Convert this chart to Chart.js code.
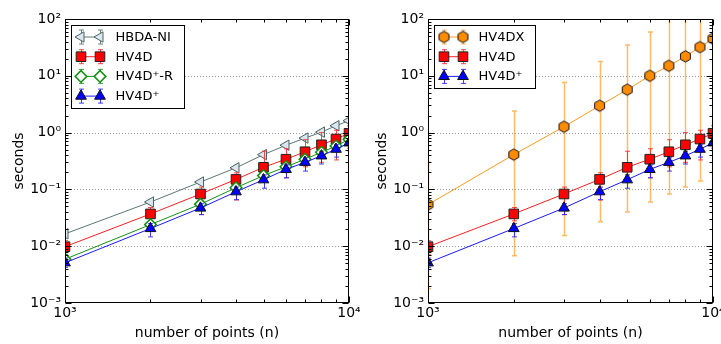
<!DOCTYPE html>
<html><head><meta charset="utf-8">
<script src="https://cdn.jsdelivr.net/npm/chart.js@4.4.0/dist/chart.umd.min.js"></script>
<style>
html,body{margin:0;padding:0;background:#fff;}
#wrap{position:relative;width:721px;height:344px;overflow:hidden;background:#fff;}
canvas{position:absolute;top:0;}
</style></head><body>
<div id="wrap">
<canvas id="c1" width="360" height="344" style="left:0px"></canvas>
<canvas id="c2" width="361" height="344" style="left:360px"></canvas>
</div>
<script>
// ---------- data ----------
const nPoints = [1000, 2000, 3000, 4000, 5000, 6000, 7000, 8000, 9000, 10000];
const xTickValues = [1000, 10000];
const yTickValues = [0.001, 0.01, 0.1, 1, 10, 100];
const gridValues = [0.01, 0.1, 1, 10];

const hbdaNi     = [0.0165, 0.060, 0.135, 0.24, 0.41, 0.60, 0.80, 1.02, 1.32, 1.62];
const hbdaNiLow  = [0.0152, 0.055, 0.124, 0.22, 0.375, 0.55, 0.73, 0.94, 1.21, 1.49];
const hbdaNiHigh = [0.018, 0.066, 0.148, 0.265, 0.45, 0.66, 0.88, 1.12, 1.45, 1.78];

const hv4d     = [0.0098, 0.037, 0.083, 0.15, 0.245, 0.34, 0.46, 0.61, 0.77, 0.97];
const hv4dLow  = [0.0072, 0.028, 0.036, 0.065, 0.15, 0.16, 0.25, 0.30, 0.33, 0.53];
const hv4dHigh = [0.0125, 0.048, 0.11, 0.196, 0.47, 0.52, 0.75, 1.0, 1.1, 1.32];

const hv4dPlusR     = [0.0059, 0.024, 0.055, 0.107, 0.175, 0.25, 0.34, 0.45, 0.58, 0.76];
const hv4dPlusRLow  = [0.0053, 0.0215, 0.049, 0.095, 0.155, 0.22, 0.30, 0.40, 0.52, 0.68];
const hv4dPlusRHigh = [0.0066, 0.027, 0.062, 0.12, 0.196, 0.28, 0.38, 0.50, 0.65, 0.85];

const hv4dPlus     = [0.0051, 0.0205, 0.047, 0.091, 0.148, 0.225, 0.30, 0.39, 0.51, 0.66];
const hv4dPlusLow  = [0.0042, 0.0146, 0.036, 0.066, 0.105, 0.16, 0.21, 0.28, 0.37, 0.48];
const hv4dPlusHigh = [0.0062, 0.025, 0.056, 0.11, 0.18, 0.27, 0.36, 0.47, 0.61, 0.79];

const hv4dx     = [0.054, 0.41, 1.27, 2.97, 5.7, 10, 15, 22, 32, 45];
const hv4dxLow  = [0.0018, 0.0068, 0.0155, 0.027, 0.04, 0.06, 0.083, 0.11, 0.14, 0.2];
const hv4dxHigh = [0.3, 2.4, 7.6, 17.8, 35, 59, 120, 200, 300, 450];

const FONT = 'DejaVu Sans';

// ---------- helpers ----------
const SUP = {'-':'\u207B','0':'\u2070','1':'\u00B9','2':'\u00B2','3':'\u00B3','4':'\u2074','5':'\u2075','6':'\u2076','7':'\u2077','8':'\u2078','9':'\u2079'};
function powLabel(v){
  const e = Math.log10(v), r = Math.round(e);
  if (Math.abs(e - r) > 1e-6) return '';
  return '10' + String(r).split('').map(c => SUP[c]).join('');
}
function hexagon(r, fill, stroke){
  const s = Math.ceil(2*r + 3);
  const c = document.createElement('canvas');
  c.width = s; c.height = s;
  const g = c.getContext('2d');
  g.beginPath();
  for (let k = 0; k < 6; k++){
    const a = -Math.PI/2 + k*Math.PI/3;
    g.lineTo(s/2 + r*Math.cos(a), s/2 + r*Math.sin(a));
  }
  g.closePath();
  g.fillStyle = fill; g.fill();
  g.lineWidth = 1; g.strokeStyle = stroke; g.stroke();
  return c;
}
const hexMarker = hexagon(5.7, '#ff8c00', '#111');

function ds(label, values, low, high, style){
  return Object.assign({
    label: label,
    data: nPoints.map((n, i) => ({x: n, y: values[i]})),
    errLow: low, errHigh: high,
    borderWidth: 1, tension: 0, clip: 0, fill: false,
    pointBorderWidth: 1
  }, style);
}

function drawMarker(ctx, d, x, y){
  ctx.save();
  ctx.fillStyle = d.pointBackgroundColor;
  ctx.strokeStyle = d.pointBorderColor;
  ctx.lineWidth = d.pointBorderWidth;
  Chart.helpers.drawPoint(ctx, {pointStyle: d.pointStyle, rotation: d.pointRotation || 0,
    radius: d.pointRadius, borderWidth: d.pointBorderWidth}, x, y);
  ctx.restore();
}

const plotPlugin = {
  id: 'plotDecor',
  beforeDatasetsDraw(chart){
    const {ctx, chartArea: a, scales: {y}} = chart;
    ctx.save();
    ctx.strokeStyle = '#999'; ctx.lineWidth = 1; ctx.setLineDash([1, 2]);
    ctx.beginPath();
    gridValues.forEach(v => {
      const py = Math.round(y.getPixelForValue(v)) + 0.5;
      ctx.moveTo(a.left, py); ctx.lineTo(a.right, py);
    });
    ctx.stroke();
    ctx.restore();
  },
  beforeDatasetDraw(chart, args){
    const d = chart.data.datasets[args.index];
    if (!d.errLow) return;
    const {ctx, chartArea: a, scales: {x, y}} = chart;
    ctx.save();
    ctx.beginPath(); ctx.rect(a.left, a.top, a.right - a.left, a.bottom - a.top); ctx.clip();
    ctx.strokeStyle = d.errColor; ctx.lineWidth = d.errWidth || 1;
    ctx.beginPath();
    nPoints.forEach((n, i) => {
      const px = Math.round(x.getPixelForValue(n)) + 0.5;
      const p1 = y.getPixelForValue(d.errLow[i]);
      const p2 = y.getPixelForValue(d.errHigh[i]);
      ctx.moveTo(px, p1); ctx.lineTo(px, p2);
      ctx.moveTo(px - 2.5, p1); ctx.lineTo(px + 2.5, p1);
      ctx.moveTo(px - 2.5, p2); ctx.lineTo(px + 2.5, p2);
    });
    ctx.stroke();
    ctx.restore();
  },
  afterDatasetsDraw(chart){
    const {ctx, chartArea: a, scales: {x, y}} = chart;
    ctx.save();
    ctx.strokeStyle = '#000'; ctx.lineWidth = 1; ctx.setLineDash([]);
    const L = Math.round(a.left) + 0.5, R = Math.round(a.right) - 0.5;
    const T = Math.round(a.top) + 0.5, B = Math.round(a.bottom) - 0.5;
    ctx.strokeRect(L, T, R - L, B - T);
    ctx.beginPath();
    for (let e = -3; e <= 1; e++){
      for (let k = 1; k <= 9; k++){
        const v = k * Math.pow(10, e);
        const py = Math.round(y.getPixelForValue(v)) + 0.5;
        const len = k === 1 ? 6 : 3;
        ctx.moveTo(L, py); ctx.lineTo(L + len, py);
        ctx.moveTo(R, py); ctx.lineTo(R - len, py);
      }
    }
    for (let k = 1; k <= 10; k++){
      const v = k * 1000;
      const px = Math.round(x.getPixelForValue(v)) + 0.5;
      const len = (k === 1 || k === 10) ? 6 : 3;
      ctx.moveTo(px, T); ctx.lineTo(px, T + len);
      ctx.moveTo(px, B); ctx.lineTo(px, B - len);
    }
    ctx.stroke();
    ctx.restore();
  },
  afterDraw(chart){
    const {ctx, chartArea: a} = chart;
    const sets = chart.data.datasets;
    const rowH = 19.7;
    ctx.save();
    ctx.font = '13px "' + FONT + '"';
    let tw = 0;
    sets.forEach(d => { tw = Math.max(tw, ctx.measureText(d.label).width); });
    const bx = Math.round(a.left + 5.5) + 0.5, by = Math.round(a.top + 6) + 0.5;
    const bw = Math.round(44 + tw + 11), bh = Math.round(sets.length * rowH + 4);
    ctx.fillStyle = '#fff'; ctx.fillRect(bx, by, bw, bh);
    ctx.strokeStyle = '#000'; ctx.lineWidth = 1; ctx.strokeRect(bx, by, bw, bh);
    sets.forEach((d, i) => {
      const cy = by + 11.5 + i * rowH;
      const m1 = bx + 9.5, m2 = bx + 28.5;
      ctx.strokeStyle = d.borderColor; ctx.lineWidth = d.borderWidth;
      ctx.beginPath(); ctx.moveTo(m1, cy); ctx.lineTo(m2, cy); ctx.stroke();
      ctx.strokeStyle = d.errColor; ctx.lineWidth = 1;
      ctx.beginPath();
      [m1, m2].forEach(m => {
        const mx = Math.round(m) + 0.5;
        ctx.moveTo(mx, cy - 7); ctx.lineTo(mx, cy + 7);
        ctx.moveTo(mx - 2.5, cy - 7); ctx.lineTo(mx + 2.5, cy - 7);
        ctx.moveTo(mx - 2.5, cy + 7); ctx.lineTo(mx + 2.5, cy + 7);
      });
      ctx.stroke();
      drawMarker(ctx, d, m1, cy);
      drawMarker(ctx, d, m2, cy);
      ctx.fillStyle = '#000'; ctx.textAlign = 'left'; ctx.textBaseline = 'middle';
      ctx.fillText(d.label, bx + 44, cy + 0.5);
    });
    ctx.restore();
  }
};

function makeChart(canvas, datasets, yWidth, padRight, titlePad){
  datasets.forEach((d, i) => { d.order = datasets.length - i; });
  return new Chart(canvas, {
    type: 'line',
    data: {datasets: datasets},
    plugins: [plotPlugin],
    options: {
      responsive: false, devicePixelRatio: 1, animation: false, events: [],
      layout: {padding: {left: 0, right: padRight, top: 19, bottom: 0}},
      plugins: {legend: {display: false}, tooltip: {enabled: false}},
      scales: {
        x: {
          type: 'logarithmic', min: 1000, max: 10000,
          grid: {display: false, drawTicks: false}, border: {display: false},
          afterBuildTicks: s => { s.ticks = xTickValues.map(v => ({value: v, major: true})); },
          ticks: {autoSkip: false, maxRotation: 0, minRotation: 0, padding: 2, color: '#000',
                  font: {family: FONT, size: 14}, callback: v => powLabel(v)},
          title: {display: true, text: 'number of points (n)', color: '#000',
                  font: {family: FONT, size: 14}, padding: {top: 0, bottom: 2}},
          afterFit: s => { s.height = 41; s.paddingLeft = 0; s.paddingRight = 0; }
        },
        y: {
          type: 'logarithmic', min: 0.001, max: 100,
          grid: {display: false, drawTicks: false}, border: {display: false},
          afterBuildTicks: s => { s.ticks = yTickValues.map(v => ({value: v, major: true})); },
          ticks: {autoSkip: false, padding: 4, color: '#000',
                  font: {family: FONT, size: 14}, callback: v => powLabel(v)},
          title: {display: true, text: 'seconds', color: '#000',
                  font: {family: FONT, size: 14}, padding: {top: titlePad, bottom: 0}},
          afterFit: s => { s.width = yWidth; s.paddingTop = 0; s.paddingBottom = 0; }
        }
      }
    }
  });
}

const styleHbda = {borderColor: '#5a7676', errColor: '#6a8080', pointStyle: 'triangle', pointRotation: 270,
  pointRadius: 6, pointBackgroundColor: '#dce6ee', pointBorderColor: '#4a6464'};
const styleHv4d = {borderColor: '#ff2020', errColor: 'rgba(255,40,40,0.85)', pointStyle: 'rect',
  pointRadius: 6.8, pointBackgroundColor: '#ff0000', pointBorderColor: '#222'};
const styleHv4dR = {borderColor: '#159015', errColor: 'rgba(20,140,20,0.8)', pointStyle: 'rectRot',
  pointRadius: 5.8, pointBackgroundColor: '#ffffff', pointBorderColor: '#119011', pointBorderWidth: 1.5};
const styleHv4dPlus = {borderColor: '#1a1aff', errColor: 'rgba(30,30,255,0.85)', pointStyle: 'triangle',
  pointRadius: 6.2, pointBackgroundColor: '#0000ff', pointBorderColor: '#111'};
const styleHv4dx = {borderColor: '#ff9a20', errColor: 'rgba(255,140,0,0.6)', errWidth: 1.5, pointStyle: hexMarker,
  pointRadius: 5.7, pointBackgroundColor: '#ff8c00', pointBorderColor: '#111'};

makeChart(document.getElementById('c1'), [
  ds('HBDA-NI', hbdaNi, hbdaNiLow, hbdaNiHigh, styleHbda),
  ds('HV4D', hv4d, hv4dLow, hv4dHigh, styleHv4d),
  ds('HV4D\u207A-R', hv4dPlusR, hv4dPlusRLow, hv4dPlusRHigh, styleHv4dR),
  ds('HV4D\u207A', hv4dPlus, hv4dPlusLow, hv4dPlusHigh, styleHv4dPlus)
], 65, 11, 11);

makeChart(document.getElementById('c2'), [
  ds('HV4DX', hv4dx, hv4dxLow, hv4dxHigh, styleHv4dx),
  ds('HV4D', hv4d, hv4dLow, hv4dHigh, Object.assign({}, styleHv4d)),
  ds('HV4D\u207A', hv4dPlus, hv4dPlusLow, hv4dPlusHigh, Object.assign({}, styleHv4dPlus))
], 68, 8, 14);
</script>
</body></html>
